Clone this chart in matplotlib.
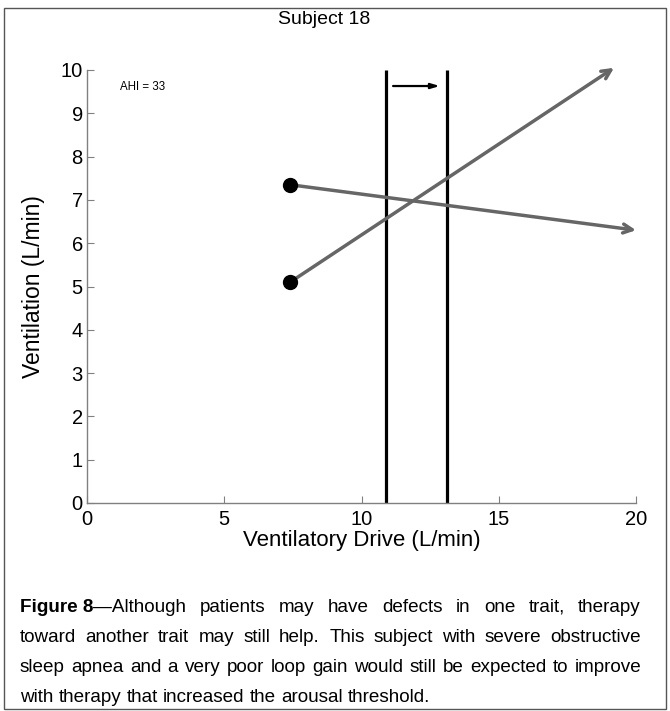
import matplotlib
matplotlib.use("Agg")
import matplotlib.pyplot as plt
from matplotlib.patches import Rectangle

# ---- data ----
drive_start = [7.4, 7.4]
vent_start = [7.35, 5.1]
drive_end = [20.0, 19.2]
vent_end = [6.3, 10.05]
thresholds = [10.9, 13.1]
threshold_top = 10.0
shift_from, shift_to, shift_y = 11.15, 12.85, 9.63
x_ticks = [0, 5, 10, 15, 20]
y_ticks = [0, 1, 2, 3, 4, 5, 6, 7, 8, 9, 10]
title = "Subject 18"
ahi_label = "AHI = 33"
xlabel = "Ventilatory Drive (L/min)"
ylabel = "Ventilation (L/min)"
caption_lines = [
    [[("Figure 8", "bold"), ("\u2014Although", "normal")], "patients", "may", "have",
     "defects", "in", "one", "trait,", "therapy"],
    "toward another trait may still help. This subject with severe obstructive".split(),
    "sleep apnea and a very poor loop gain would still be expected to improve".split(),
    "with therapy that increased the arousal threshold.".split(),
]

plt.rcParams['font.family'] = ['Liberation Sans', 'DejaVu Sans']
W, H, DPI = 670, 711, 100
fig = plt.figure(figsize=(W / DPI, H / DPI), dpi=DPI)
fig.patch.set_facecolor('white')

ax = fig.add_axes([87 / W, 1 - 503 / H, (636 - 87) / W, (503 - 70) / H])
ax.set_xlim(0, 20)
ax.set_ylim(0, 10)
for s in ['top', 'right']:
    ax.spines[s].set_visible(False)
for s in ['left', 'bottom']:
    ax.spines[s].set_color('#808080')
    ax.spines[s].set_linewidth(1.0)
ax.tick_params(direction='in', length=5, color='#808080', labelsize=14.5)
ax.tick_params(axis='x', pad=5)
ax.tick_params(axis='y', pad=3)
ax.set_xticks(x_ticks)
ax.set_yticks(y_ticks)
ax.set_xlabel(xlabel, fontsize=16, labelpad=1)
ax.set_ylabel(ylabel, fontsize=16.5, labelpad=11)

gray = '#666666'
for xs, ys, xe, ye in zip(drive_start, vent_start, drive_end, vent_end):
    ax.annotate('', xy=(xe, ye), xytext=(xs, ys),
                arrowprops=dict(arrowstyle='->,head_length=0.65,head_width=0.32', color=gray, lw=2.5,
                                shrinkA=0, shrinkB=0), annotation_clip=False)
    ax.plot([xs], [ys], 'o', color='black', markersize=10, clip_on=False, zorder=5)

for t in thresholds:
    ax.plot([t, t], [0, threshold_top], color='black', lw=2.3, clip_on=False, solid_capstyle='butt')

ax.annotate('', xy=(shift_to, shift_y), xytext=(shift_from, shift_y),
            arrowprops=dict(arrowstyle='-|>,head_length=0.5,head_width=0.15', color='black', lw=1.6,
                            shrinkA=0, shrinkB=0))

ax.text(1.2, 9.6, ahi_label, fontsize=8.3, va='center', ha='left')
fig.text(324 / W, 1 - 20 / H, title, fontsize=14, ha='center', va='center')

# border
fig.add_artist(Rectangle((4 / W, 2 / H), (W - 8) / W, (H - 10) / H, transform=fig.transFigure,
                         fill=False, edgecolor='#555555', lw=1.0))

# justified caption
renderer = fig.canvas.get_renderer()
cap_font = ['Liberation Sans Narrow', 'Liberation Sans', 'DejaVu Sans']
cap_size = 13.6
left_px, right_px = 20, 641
line_y = [607, 637, 667, 697]


def measure(txt, weight, size):
    t = fig.text(0, 0, txt, fontsize=size, family=cap_font, weight=weight)
    w = t.get_window_extent(renderer).width
    t.remove()
    return w


for li, (line, yy) in enumerate(zip(caption_lines, line_y)):
    tokens = [[(tok, 'normal')] if isinstance(tok, str) else tok for tok in line]
    size = cap_size
    while True:
        widths = [[measure(s, w, size) for s, w in tok] for tok in tokens]
        total = sum(sum(ws) for ws in widths)
        gap = (right_px - left_px - total) / (len(tokens) - 1)
        if gap >= 2.5 or size < 9:
            break
        size -= 0.2
    if li == len(caption_lines) - 1:
        gap = measure('a b', 'normal', size) - measure('ab', 'normal', size)
    x = left_px
    for tok, ws in zip(tokens, widths):
        for (s, w), wd in zip(tok, ws):
            fig.text(x / W, 1 - yy / H, s, fontsize=size, family=cap_font, weight=w,
                     ha='left', va='center')
            x += wd
        x += gap

fig.savefig('out.png', dpi=DPI)
